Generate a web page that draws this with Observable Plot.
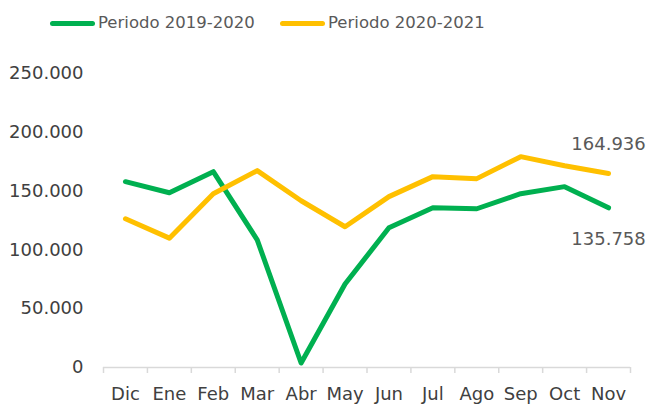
<!DOCTYPE html>
<html>
<head>
<meta charset="utf-8">
<script src="https://cdn.jsdelivr.net/npm/d3@7"></script>
<script src="https://cdn.jsdelivr.net/npm/@observablehq/plot@0.6"></script>
<style>
  html, body { margin: 0; padding: 0; background: #fff; }
  body { width: 647px; height: 404px; overflow: hidden; font-family: "DejaVu Sans", sans-serif; }
  #legend { position: relative; height: 44px; }
  .item { position: absolute; top: 12px; display: flex; align-items: center; color: #595959; font-size: 16.5px; line-height: 20px; }
  .swatch { width: 45px; height: 5px; border-radius: 3px; margin-right: 3px; }
</style>
</head>
<body>
<div id="legend"></div>
<div id="chart"></div>
<script>
const months = ["Dic","Ene","Feb","Mar","Abr","May","Jun","Jul","Ago","Sep","Oct","Nov"];
const series1Name = "Periodo 2019-2020";
const series2Name = "Periodo 2020-2021";
const series1 = [158000, 148600, 166500, 108600, 3800, 71000, 118800, 135900, 135000, 147800, 153800, 135758];
const series2 = [126500, 110000, 147800, 167400, 141800, 119700, 145300, 162300, 160600, 179300, 171600, 164936];
const yTicks = [0, 50000, 100000, 150000, 200000, 250000];
const colors = ["#00b050", "#ffc000"];

const fmt = d => d3.format(",")(d).replace(/,/g, ".");

// legend
const legend = document.getElementById("legend");
[[series1Name, colors[0], 50], [series2Name, colors[1], 280]].forEach(([name, c, left]) => {
  const it = document.createElement("div");
  it.className = "item";
  it.style.left = left + "px";
  it.style.top = "12px";
  it.innerHTML = `<span class="swatch" style="background:${c}"></span><span>${name}</span>`;
  legend.appendChild(it);
});
legend.querySelectorAll(".item").forEach(el => el.style.top = "13px");

const rows = [];
months.forEach((m, i) => {
  rows.push({i, v: series1[i], s: series1Name});
  rows.push({i, v: series2[i], s: series2Name});
});
const last = months.length - 1;
const boundaries = d3.range(months.length + 1).map(i => i - 0.5);

const chart = Plot.plot({
  width: 647,
  height: 360,
  marginTop: 29,
  marginBottom: 37,
  marginLeft: 103,
  marginRight: 17,
  style: { fontFamily: "DejaVu Sans, sans-serif", fontSize: "18px", color: "#404040", background: "#fff" },
  x: { domain: [-0.5, months.length - 0.5], axis: null },
  y: { domain: [0, 250000], axis: null },
  color: { domain: [series1Name, series2Name], range: colors },
  marks: [
    Plot.axisY({ ticks: yTicks, tickFormat: fmt, tickSize: 0, tickPadding: 20, fontSize: 18, fill: "#404040", label: null }),
    Plot.ruleY([0], { stroke: "#d9d9d9", strokeWidth: 1.5 }),
    Plot.axisX({ ticks: boundaries, tickFormat: () => "", tickSize: 6, stroke: "#d9d9d9", strokeWidth: 1.5, strokeOpacity: 1, label: null }),
    Plot.axisX({ ticks: d3.range(months.length), tickFormat: i => months[i], tickSize: 0, tickPadding: 20, fontSize: 18, fill: "#404040", label: null }),
    Plot.line(rows, { x: "i", y: "v", z: "s", stroke: "s", strokeWidth: 5, strokeLinejoin: "round", strokeLinecap: "round" }),
    Plot.text([series2[last]], { x: () => last, y: d => d, text: d => fmt(d), dy: -29, fill: "#595959", fontSize: 18, lineAnchor: "middle" }),
    Plot.text([series1[last]], { x: () => last, y: d => d, text: d => fmt(d), dy: 31, fill: "#595959", fontSize: 18, lineAnchor: "middle" })
  ]
});
document.getElementById("chart").appendChild(chart);
</script>
</body>
</html>
